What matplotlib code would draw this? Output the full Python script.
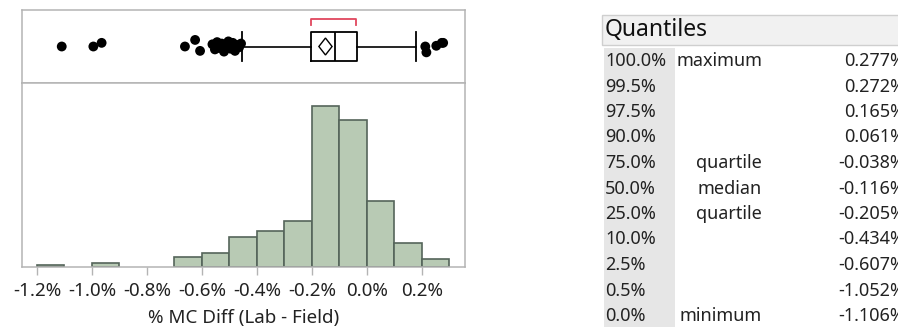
import numpy as np
import matplotlib.pyplot as plt
from matplotlib.patches import Rectangle, Polygon

plt.rcParams['font.family'] = ['Noto Sans', 'DejaVu Sans']

# histogram (bin left edge, count) - empty bins left out
bin_left = [-1.2, -1.0, -0.7, -0.6, -0.5, -0.4, -0.3, -0.2, -0.1, 0.0, 0.1, 0.2]
counts = [1, 2, 5, 7, 15, 18, 23, 80, 73, 33, 12, 4]
bin_width = 0.1

# box plot summary
q1, med, q3 = -0.205, -0.116, -0.038
whis_lo, whis_hi = -0.456, 0.178
mean_val, mean_ci = -0.151, 0.024
shortest_half = [-0.205, -0.040]
outliers = [-1.110, -0.995, -0.965, -0.662, -0.625, -0.607,
            -0.562, -0.553, -0.545, -0.537, -0.528, -0.520, -0.512,
            -0.504, -0.496, -0.488, -0.480, -0.472, -0.465, -0.458,
            0.212, 0.216, 0.252, 0.272, 0.277]
jitter = [0.0, 0.0, 0.05, 0.0, 0.09, -0.06,
          0.03, -0.04, 0.06, -0.02, 0.04, -0.07, 0.01,
          0.07, -0.03, 0.05, -0.06, 0.02, -0.01, 0.04,
          0.0, -0.08, 0.01, 0.05, 0.05]

xticks = [-1.2, -1.0, -0.8, -0.6, -0.4, -0.2, 0.0, 0.2]
xlabel = '% MC Diff (Lab - Field)'

# quantile table
q_pct = ['100.0%', '99.5%', '97.5%', '90.0%', '75.0%', '50.0%',
         '25.0%', '10.0%', '2.5%', '0.5%', '0.0%']
q_name = ['maximum', '', '', '', 'quartile', 'median',
          'quartile', '', '', '', 'minimum']
q_val = ['0.277%', '0.272%', '0.165%', '0.061%', '-0.038%', '-0.116%',
         '-0.205%', '-0.434%', '-0.607%', '-1.052%', '-1.106%']

W, H = 898, 327
frame_col = '#b4b4b4'
bar_fill = '#b8cab4'
bar_edge = '#55655a'
txt_col = '#222222'

fig = plt.figure(figsize=(W / 100, H / 100), dpi=100)

def fx(px):
    return px / W

def fy(py):
    return 1 - py / H

x0, x1 = 22, 465
ax_box = fig.add_axes([fx(x0), fy(83), fx(x1 - x0), (83 - 10) / H])
ax_hist = fig.add_axes([fx(x0), fy(267), fx(x1 - x0), (267 - 83) / H])

xlim = (-1.2545, 0.3564)

# ---- histogram
ax_hist.bar(bin_left, counts, width=bin_width, align='edge',
            color=bar_fill, edgecolor=bar_edge, linewidth=1.2, zorder=2)
ax_hist.set_xlim(*xlim)
ax_hist.set_ylim(0, 91.5)
ax_hist.set_yticks([])
ax_hist.set_xticks(xticks)
ax_hist.set_xticklabels([f'{t:.1f}%' for t in xticks], fontsize=13.5, color=txt_col)
ax_hist.tick_params(axis='x', length=6, width=1, color=frame_col, pad=5)
ax_hist.set_xlabel(xlabel, fontsize=13.5, color=txt_col, labelpad=6)
for s in ax_hist.spines.values():
    s.set_color(frame_col)
    s.set_linewidth(1.1)

# ---- box plot
ax_box.set_ylim(0, 1)
yc = 0.5
stats = [dict(med=med, q1=q1, q3=q3, whislo=whis_lo, whishi=whis_hi, fliers=[])]
ax_box.bxp(stats, positions=[yc], widths=0.41, orientation='horizontal',
           showfliers=False, manage_ticks=False,
           boxprops=dict(color='black', linewidth=1.3),
           medianprops=dict(color='black', linewidth=1.3),
           whiskerprops=dict(color='black', linewidth=1.2),
           capprops=dict(color='black', linewidth=1.3),
           capwidths=0.41)

ax_box.scatter(outliers, [yc + j for j in jitter], s=50, color='black',
               edgecolors='none', zorder=3)

# mean diamond
dh = 0.116
ax_box.add_patch(Polygon([[mean_val - mean_ci, yc], [mean_val, yc + dh],
                          [mean_val + mean_ci, yc], [mean_val, yc - dh]],
                         closed=True, fill=False, edgecolor='black', linewidth=1.0))

# shortest half bracket
by, bt = 0.877, 0.80
ax_box.plot([shortest_half[0], shortest_half[0], shortest_half[1], shortest_half[1]],
            [bt, by, by, bt], color='#e0475e', linewidth=1.3)

ax_box.set_xlim(*xlim)
ax_box.set_xticks([])
ax_box.set_yticks([])
for s in ax_box.spines.values():
    s.set_color(frame_col)
    s.set_linewidth(1.1)

# ---- quantile table (figure pixel coords)
fig.patches.append(Rectangle((fx(602), fy(45)), fx(320), (45 - 15) / H,
                             transform=fig.transFigure, facecolor='#f1f1f1',
                             edgecolor='#cfcfcf', linewidth=1.0))
fig.text(fx(605), fy(30), 'Quantiles', fontsize=16.5, fontweight='bold',
         color='#111111', va='center', ha='left')
fig.patches.append(Rectangle((fx(604), 0), fx(675 - 604), fy(48),
                             transform=fig.transFigure, facecolor='#e6e6e6',
                             edgecolor='none'))

row0, row_h = 61, 25.5
for i, (p, n, v) in enumerate(zip(q_pct, q_name, q_val)):
    y = fy(row0 + i * row_h)
    fig.text(fx(605), y, p, fontsize=13, color=txt_col, va='center', ha='left')
    if n:
        fig.text(fx(762), y, n, fontsize=13, color=txt_col, va='center', ha='right')
    fig.text(fx(905), y, v, fontsize=13, color=txt_col, va='center', ha='right')

fig.savefig('out.png', dpi=100)
